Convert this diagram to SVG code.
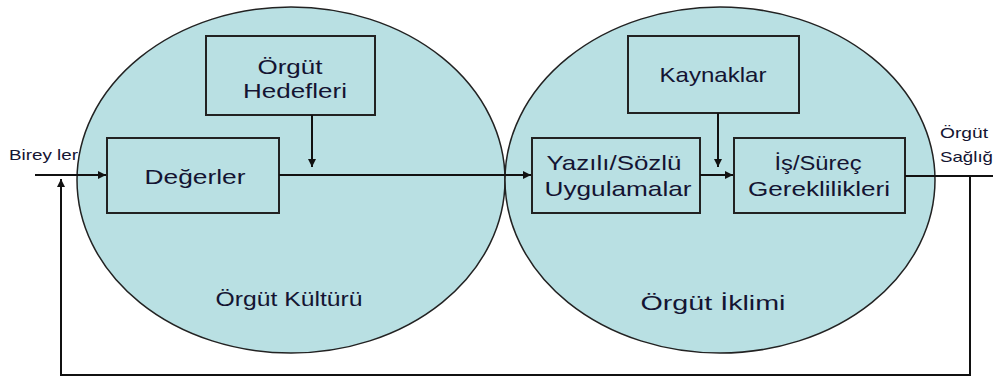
<svg xmlns="http://www.w3.org/2000/svg" width="995" height="377" viewBox="0 0 995 377">
<style>
.ell{fill:#b9e0e3;stroke:#222;stroke-width:1.5}
.box{fill:#b9e0e3;stroke:#222;stroke-width:2}
.t{font-family:"Liberation Sans",Arial,sans-serif;font-size:21px;fill:#141432;text-anchor:middle}
.s{font-family:"Liberation Sans",Arial,sans-serif;font-size:15px;fill:#141432}
.ln{fill:none;stroke:#111;stroke-width:2}
</style>
<defs>
<marker id="ah" viewBox="0 0 10 10" refX="10" refY="5" markerWidth="4" markerHeight="4" orient="auto" markerUnits="strokeWidth">
<path d="M0,0 L10,5 L0,10 z" fill="#111"/>
</marker>
</defs>
<rect width="995" height="377" fill="#fff"/>
<g id="culture">
<ellipse class="ell" cx="291" cy="180" rx="214" ry="173"/>
<text class="t" x="289" y="306" textLength="147" lengthAdjust="spacingAndGlyphs">Örgüt Kültürü</text>
</g>
<g id="climate">
<ellipse class="ell" cx="720" cy="180" rx="215" ry="173"/>
<text class="t" x="713" y="310" textLength="145" lengthAdjust="spacingAndGlyphs">Örgüt İklimi</text>
</g>
<g id="hedefler">
<rect class="box" x="206" y="36" width="169" height="79"/>
<text class="t" x="290" y="74" textLength="65" lengthAdjust="spacingAndGlyphs">Örgüt</text>
<text class="t" x="295" y="98" textLength="104" lengthAdjust="spacingAndGlyphs">Hedefleri</text>
</g>
<g id="degerler">
<rect class="box" x="107" y="138" width="172" height="75"/>
<text class="t" x="195" y="184" textLength="101" lengthAdjust="spacingAndGlyphs">Değerler</text>
</g>
<g id="kaynaklar">
<rect class="box" x="628" y="36" width="171" height="77"/>
<text class="t" x="713" y="82" textLength="107" lengthAdjust="spacingAndGlyphs">Kaynaklar</text>
</g>
<g id="yazili">
<rect class="box" x="532" y="138" width="168" height="75"/>
<text class="t" x="614" y="170" textLength="135" lengthAdjust="spacingAndGlyphs">Yazılı/Sözlü</text>
<text class="t" x="618" y="196" textLength="147" lengthAdjust="spacingAndGlyphs">Uygulamalar</text>
</g>
<g id="surec">
<rect class="box" x="734" y="138" width="171" height="75"/>
<text class="t" x="818" y="170" textLength="87" lengthAdjust="spacingAndGlyphs">İş/Süreç</text>
<text class="t" x="819" y="196" textLength="142" lengthAdjust="spacingAndGlyphs">Gereklilikleri</text>
</g>
<g id="bireyler">
<text class="s" x="9" y="160" textLength="69" lengthAdjust="spacingAndGlyphs">Birey ler</text>
</g>
<g id="saglik">
<text class="s" x="940" y="138" textLength="48" lengthAdjust="spacingAndGlyphs">Örgüt</text>
<text class="s" x="940" y="162" textLength="53" lengthAdjust="spacingAndGlyphs">Sağlığ</text>
</g>
<g id="connectors">
<line class="ln" x1="35" y1="175" x2="106" y2="175" marker-end="url(#ah)"/>
<line class="ln" x1="279" y1="175" x2="531" y2="175" marker-end="url(#ah)"/>
<line class="ln" x1="700" y1="175" x2="733" y2="175" marker-end="url(#ah)"/>
<line class="ln" x1="312" y1="115" x2="312" y2="167" marker-end="url(#ah)"/>
<line class="ln" x1="718" y1="113" x2="718" y2="167" marker-end="url(#ah)"/>
<line class="ln" x1="905" y1="176" x2="993" y2="176"/>
<polyline class="ln" points="970,176 970,375 61,375 61,179" marker-end="url(#ah)"/>
</g>
</svg>
